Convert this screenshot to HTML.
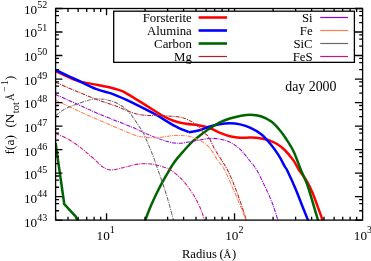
<!DOCTYPE html>
<html><head><meta charset="utf-8"><title>f(a) day 2000</title>
<style>html,body{margin:0;padding:0;background:#fff;}body{width:371px;height:261px;overflow:hidden;font-family:"Liberation Serif",serif;}svg{display:block;will-change:transform;}text{font-family:"Liberation Serif",serif;fill:#000;}</style>
</head><body>
<svg width="371" height="261" viewBox="0 0 371 261">
<rect x="0" y="0" width="371" height="261" fill="#fff"/>
<defs><clipPath id="pc"><rect x="55.6" y="8.5" width="307.0" height="212.0"/></clipPath></defs>
<g clip-path="url(#pc)" fill="none" stroke-linejoin="round" stroke-linecap="butt">
<path d="M55.60,71.00 C58.97,72.53 70.90,78.27 75.80,80.20 C80.70,82.13 81.55,81.83 85.00,82.60 C88.45,83.37 92.17,83.95 96.50,84.80 C100.83,85.65 107.33,86.85 111.00,87.70 C114.67,88.55 116.00,89.00 118.50,89.90 C121.00,90.80 121.42,90.52 126.00,93.10 C130.58,95.68 139.82,101.58 146.00,105.40 C152.18,109.22 158.52,113.45 163.10,116.00 C167.68,118.55 169.68,119.40 173.50,120.70 C177.32,122.00 181.85,123.05 186.00,123.80 C190.15,124.55 194.57,124.53 198.40,125.20 C202.23,125.87 205.15,126.43 209.00,127.80 C212.85,129.17 218.03,132.00 221.50,133.40 C224.97,134.80 226.70,135.47 229.80,136.20 C232.90,136.93 236.65,137.57 240.10,137.80 C243.55,138.03 247.03,137.50 250.50,137.60 C253.97,137.70 257.78,137.93 260.90,138.40 C264.02,138.87 266.43,139.42 269.20,140.40 C271.97,141.38 274.83,142.62 277.50,144.30 C280.17,145.98 282.52,147.78 285.20,150.50 C287.88,153.22 291.30,157.35 293.60,160.60 C295.90,163.85 296.88,166.70 299.00,170.00 C301.12,173.30 304.05,176.60 306.30,180.40 C308.55,184.20 310.43,187.97 312.50,192.80 C314.57,197.63 317.02,204.85 318.70,209.40 C320.38,213.95 321.72,217.67 322.60,220.10 C323.48,222.53 323.77,223.35 324.00,224.00" stroke="#ff0000" stroke-width="2.5"/>
<path d="M55.60,70.00 C58.97,71.58 68.98,76.30 75.80,79.50 C82.62,82.70 90.63,86.88 96.50,89.20 C102.37,91.52 106.08,91.65 111.00,93.40 C115.92,95.15 120.17,97.00 126.00,99.70 C131.83,102.40 140.63,106.88 146.00,109.60 C151.37,112.32 153.62,113.38 158.20,116.00 C162.78,118.62 168.40,122.60 173.50,125.30 C178.60,128.00 186.25,131.05 188.80,132.20" stroke="#0000ff" stroke-width="2.5"/>
<path d="M188.80,132.20 C190.40,131.92 195.03,131.40 198.40,130.50 C201.77,129.60 205.50,127.83 209.00,126.80 C212.50,125.77 215.93,124.88 219.40,124.30 C222.87,123.72 226.35,123.28 229.80,123.30 C233.25,123.32 236.65,123.65 240.10,124.40 C243.55,125.15 247.03,126.20 250.50,127.80 C253.97,129.40 257.57,131.30 260.90,134.00 C264.23,136.70 267.53,140.43 270.50,144.00 C273.47,147.57 276.28,151.58 278.70,155.40 C281.12,159.22 283.62,164.47 285.00,166.90 C286.38,169.33 285.25,166.37 287.00,170.00 C288.75,173.63 293.00,182.82 295.50,188.70 C298.00,194.58 299.92,200.07 302.00,205.30 C304.08,210.53 306.77,216.98 308.00,220.10 C309.23,223.22 309.17,223.35 309.40,224.00" stroke="#0000ff" stroke-width="2.5"/>
<path d="M144.00,224.00 C144.22,223.35 144.18,223.05 145.30,220.10 C146.42,217.15 148.77,210.85 150.70,206.30 C152.63,201.75 154.83,197.05 156.90,192.80 C158.97,188.55 161.02,184.60 163.10,180.80 C165.18,177.00 167.98,172.43 169.40,170.00 C170.82,167.57 170.33,168.10 171.60,166.20 C172.87,164.30 174.85,161.30 177.00,158.60 C179.15,155.90 182.07,152.72 184.50,150.00 C186.93,147.28 189.52,144.33 191.60,142.30 C193.68,140.27 195.22,139.23 197.00,137.80 C198.78,136.37 200.13,135.28 202.30,133.70 C204.47,132.12 207.15,130.15 210.00,128.30 C212.85,126.45 216.10,124.23 219.40,122.60 C222.70,120.97 226.35,119.60 229.80,118.50 C233.25,117.40 236.65,116.63 240.10,116.00 C243.55,115.37 247.03,114.67 250.50,114.70 C253.97,114.73 257.43,115.05 260.90,116.20 C264.37,117.35 268.25,119.38 271.30,121.60 C274.35,123.82 276.85,126.80 279.20,129.50 C281.55,132.20 283.02,134.17 285.40,137.80 C287.78,141.43 290.92,145.93 293.50,151.30 C296.08,156.67 298.62,164.47 300.90,170.00 C303.18,175.53 305.08,178.62 307.20,184.50 C309.32,190.38 311.80,199.37 313.60,205.30 C315.40,211.23 317.07,216.98 318.00,220.10 C318.93,223.22 319.00,223.35 319.20,224.00" stroke="#006400" stroke-width="2.5"/>
<path d="M55.60,143.00 L59.40,170.00 L64.30,204.20 L75.80,216.70 L77.20,220.10 L78.00,222.00" stroke="#006400" stroke-width="2.5"/>
<path d="M55.60,82.30 C58.97,83.75 68.98,88.15 75.80,91.00 C82.62,93.85 89.58,96.80 96.50,99.40 C103.42,102.00 111.38,104.40 117.30,106.60 C123.22,108.80 127.47,111.15 132.00,112.60 C136.53,114.05 139.83,114.80 144.50,115.30 C149.17,115.80 154.47,115.35 160.00,115.60 C165.53,115.85 173.03,116.12 177.70,116.80 C182.37,117.48 184.70,118.17 188.00,119.70 C191.30,121.23 195.00,123.95 197.50,126.00 C200.00,128.05 201.17,130.20 203.00,132.00 C204.83,133.80 206.55,133.93 208.50,136.80 C210.45,139.67 212.58,145.40 214.70,149.20 C216.82,153.00 219.07,156.13 221.20,159.60 C223.33,163.07 225.38,165.85 227.50,170.00 C229.62,174.15 231.80,179.32 233.90,184.50 C236.00,189.68 238.02,195.17 240.10,201.10 C242.18,207.03 245.13,216.28 246.40,220.10 C247.67,223.92 247.48,223.35 247.70,224.00" stroke="#b22222" stroke-width="1.05" stroke-dasharray="4 1 1 1"/>
<path d="M55.60,94.60 C58.97,96.08 68.98,100.45 75.80,103.50 C82.62,106.55 91.67,110.77 96.50,112.90 C101.33,115.03 98.88,113.92 104.80,116.30 C110.72,118.68 125.38,124.43 132.00,127.20 C138.62,129.97 140.35,131.10 144.50,132.90 C148.65,134.70 152.75,136.47 156.90,138.00 C161.05,139.53 165.60,141.23 169.40,142.10 C173.20,142.97 175.90,143.33 179.70,143.20 C183.50,143.07 187.32,142.08 192.20,141.30 C197.08,140.52 204.82,138.92 209.00,138.50 C213.18,138.08 214.53,138.47 217.30,138.80 C220.07,139.13 222.83,139.57 225.60,140.50 C228.37,141.43 231.13,142.57 233.90,144.40 C236.67,146.23 239.43,148.62 242.20,151.50 C244.97,154.38 248.08,158.62 250.50,161.70 C252.92,164.78 254.28,165.85 256.70,170.00 C259.12,174.15 262.40,181.07 265.00,186.60 C267.60,192.13 270.15,197.62 272.30,203.20 C274.45,208.78 276.75,216.63 277.90,220.10 C279.05,223.57 278.98,223.35 279.20,224.00" stroke="#9400d3" stroke-width="1.05" stroke-dasharray="4 1 1 1"/>
<path d="M55.60,100.20 C58.97,101.78 70.15,107.07 75.80,109.70 C81.45,112.33 80.13,111.93 89.50,116.00 C98.87,120.07 122.83,130.57 132.00,134.10 C141.17,137.63 140.35,136.60 144.50,137.20 C148.65,137.80 152.75,137.92 156.90,137.70 C161.05,137.48 165.60,136.28 169.40,135.90 C173.20,135.52 176.25,135.28 179.70,135.40 C183.15,135.52 186.63,135.68 190.10,136.60 C193.57,137.52 197.35,139.15 200.50,140.90 C203.65,142.65 206.20,143.98 209.00,147.10 C211.80,150.22 214.70,155.78 217.30,159.60 C219.90,163.42 221.83,164.80 224.60,170.00 C227.37,175.20 231.32,184.92 233.90,190.80 C236.48,196.68 238.10,200.42 240.10,205.30 C242.10,210.18 244.68,216.98 245.90,220.10 C247.12,223.22 247.15,223.35 247.40,224.00" stroke="#ff7f50" stroke-width="1.05" stroke-dasharray="4 1 1 1"/>
<path d="M55.60,115.80 C57.00,114.75 60.63,111.40 64.00,109.50 C67.37,107.60 71.42,106.02 75.80,104.40 C80.18,102.78 86.27,100.72 90.30,99.80 C94.33,98.88 96.82,98.80 100.00,98.90 C103.18,99.00 106.22,99.48 109.40,100.40 C112.58,101.32 116.13,102.77 119.10,104.40 C122.07,106.03 124.77,107.88 127.20,110.20 C129.63,112.52 131.82,115.73 133.70,118.30 C135.58,120.87 136.85,123.07 138.50,125.60 C140.15,128.13 141.22,128.53 143.60,133.50 C145.98,138.47 150.40,149.32 152.80,155.40 C155.20,161.48 156.28,165.15 158.00,170.00 C159.72,174.85 161.38,179.32 163.10,184.50 C164.82,189.68 166.57,195.17 168.30,201.10 C170.03,207.03 172.45,216.28 173.50,220.10 C174.55,223.92 174.42,223.35 174.60,224.00" stroke="#696969" stroke-width="1.05" stroke-dasharray="4 1 1 1"/>
<path d="M55.60,133.60 C57.58,134.47 63.45,136.55 67.50,138.80 C71.55,141.05 75.75,143.98 79.90,147.10 C84.05,150.22 88.60,154.20 92.40,157.50 C96.20,160.80 99.60,164.83 102.70,166.90 C105.80,168.97 107.88,169.70 111.00,169.90 C114.12,170.10 117.90,168.87 121.40,168.10 C124.90,167.33 128.50,166.03 132.00,165.30 C135.50,164.57 138.93,163.88 142.40,163.70 C145.87,163.52 149.35,163.67 152.80,164.20 C156.25,164.73 160.17,165.93 163.10,166.90 C166.03,167.87 167.28,167.93 170.40,170.00 C173.52,172.07 178.17,175.50 181.80,179.30 C185.43,183.10 189.25,188.30 192.20,192.80 C195.15,197.30 197.43,201.75 199.50,206.30 C201.57,210.85 203.53,217.15 204.60,220.10 C205.67,223.05 205.68,223.35 205.90,224.00" stroke="#c71585" stroke-width="1.05" stroke-dasharray="4 1 1 1"/>
</g>
<path d="M55.6,220.10h6.8M362.6,220.10h-7.7M55.6,210.74h3.4M362.6,210.74h-3.4M55.6,203.67h3.4M362.6,203.67h-3.4M55.6,199.53h3.4M362.6,199.53h-3.4M55.6,196.59h6.8M362.6,196.59h-7.7M55.6,187.23h3.4M362.6,187.23h-3.4M55.6,180.16h3.4M362.6,180.16h-3.4M55.6,176.02h3.4M362.6,176.02h-3.4M55.6,173.08h6.8M362.6,173.08h-7.7M55.6,163.72h3.4M362.6,163.72h-3.4M55.6,156.64h3.4M362.6,156.64h-3.4M55.6,152.50h3.4M362.6,152.50h-3.4M55.6,149.57h6.8M362.6,149.57h-7.7M55.6,140.21h3.4M362.6,140.21h-3.4M55.6,133.13h3.4M362.6,133.13h-3.4M55.6,128.99h3.4M362.6,128.99h-3.4M55.6,126.06h6.8M362.6,126.06h-7.7M55.6,116.70h3.4M362.6,116.70h-3.4M55.6,109.62h3.4M362.6,109.62h-3.4M55.6,105.48h3.4M362.6,105.48h-3.4M55.6,102.54h6.8M362.6,102.54h-7.7M55.6,93.19h3.4M362.6,93.19h-3.4M55.6,86.11h3.4M362.6,86.11h-3.4M55.6,81.97h3.4M362.6,81.97h-3.4M55.6,79.03h6.8M362.6,79.03h-7.7M55.6,69.68h3.4M362.6,69.68h-3.4M55.6,62.60h3.4M362.6,62.60h-3.4M55.6,58.46h3.4M362.6,58.46h-3.4M55.6,55.52h6.8M362.6,55.52h-7.7M55.6,46.17h3.4M362.6,46.17h-3.4M55.6,39.09h3.4M362.6,39.09h-3.4M55.6,34.95h3.4M362.6,34.95h-3.4M55.6,32.01h6.8M362.6,32.01h-7.7M55.6,22.66h3.4M362.6,22.66h-3.4M55.6,15.58h3.4M362.6,15.58h-3.4M55.6,11.44h3.4M362.6,11.44h-3.4M55.6,8.50h6.8M362.6,8.50h-7.7M55.60,220.1v-3.4M55.60,8.5v3.4M68.00,220.1v-3.4M68.00,8.5v3.4M78.14,220.1v-3.4M78.14,8.5v3.4M86.71,220.1v-3.4M86.71,8.5v3.4M94.13,220.1v-3.4M94.13,8.5v3.4M100.68,220.1v-3.4M100.68,8.5v3.4M106.54,220.1v-6.8M106.54,8.5v6.8M145.07,220.1v-3.4M145.07,8.5v3.4M167.61,220.1v-3.4M167.61,8.5v3.4M183.60,220.1v-3.4M183.60,8.5v3.4M196.00,220.1v-3.4M196.00,8.5v3.4M206.14,220.1v-3.4M206.14,8.5v3.4M214.71,220.1v-3.4M214.71,8.5v3.4M222.13,220.1v-3.4M222.13,8.5v3.4M228.68,220.1v-3.4M228.68,8.5v3.4M234.54,220.1v-6.8M234.54,8.5v6.8M273.07,220.1v-3.4M273.07,8.5v3.4M295.61,220.1v-3.4M295.61,8.5v3.4M311.60,220.1v-3.4M311.60,8.5v3.4M324.00,220.1v-3.4M324.00,8.5v3.4M334.14,220.1v-3.4M334.14,8.5v3.4M342.71,220.1v-3.4M342.71,8.5v3.4M350.13,220.1v-3.4M350.13,8.5v3.4M356.68,220.1v-3.4M356.68,8.5v3.4" stroke="#000" stroke-width="1.3" fill="none"/>
<rect x="55.6" y="8.5" width="307.0" height="211.6" fill="none" stroke="#000" stroke-width="1.3"/>
<rect x="113.7" y="11.2" width="240.7" height="51.150000000000006" fill="#fff" stroke="#000" stroke-width="1.3"/>
<text x="191.8" y="21.70" font-size="12.8" text-anchor="end">Forsterite</text>
<path d="M198.6,17.5H227" stroke="#ff0000" stroke-width="2.6"/>
<text x="191.8" y="34.70" font-size="12.8" text-anchor="end">Alumina</text>
<path d="M198.6,30.5H227" stroke="#0000ff" stroke-width="2.6"/>
<text x="191.8" y="47.70" font-size="12.8" text-anchor="end">Carbon</text>
<path d="M198.6,43.5H227" stroke="#006400" stroke-width="2.6"/>
<text x="191.8" y="60.70" font-size="12.8" text-anchor="end">Mg</text>
<path d="M198.6,56.5H227" stroke="#b22222" stroke-width="1.2"/>
<text x="312.6" y="21.70" font-size="12.8" text-anchor="end">Si</text>
<path d="M320.2,17.5H348" stroke="#9400d3" stroke-width="1.2"/>
<text x="312.6" y="34.70" font-size="12.8" text-anchor="end">Fe</text>
<path d="M320.2,30.5H348" stroke="#ff7f50" stroke-width="1.2"/>
<text x="312.6" y="47.70" font-size="12.8" text-anchor="end">SiC</text>
<path d="M320.2,43.5H348" stroke="#696969" stroke-width="1.2"/>
<text x="312.6" y="60.70" font-size="12.8" text-anchor="end">FeS</text>
<path d="M320.2,56.5H348" stroke="#c71585" stroke-width="1.2"/>
<text x="285.2" y="90.6" font-size="13.9">day 2000</text>
<text x="47.2" y="226.73" font-size="13.2" text-anchor="end">10<tspan font-size="10" dy="-6.2">43</tspan></text>
<text x="47.2" y="203.06" font-size="13.2" text-anchor="end">10<tspan font-size="10" dy="-6.2">44</tspan></text>
<text x="47.2" y="179.39" font-size="13.2" text-anchor="end">10<tspan font-size="10" dy="-6.2">45</tspan></text>
<text x="47.2" y="155.72" font-size="13.2" text-anchor="end">10<tspan font-size="10" dy="-6.2">46</tspan></text>
<text x="47.2" y="132.05" font-size="13.2" text-anchor="end">10<tspan font-size="10" dy="-6.2">47</tspan></text>
<text x="47.2" y="108.38" font-size="13.2" text-anchor="end">10<tspan font-size="10" dy="-6.2">48</tspan></text>
<text x="47.2" y="84.71" font-size="13.2" text-anchor="end">10<tspan font-size="10" dy="-6.2">49</tspan></text>
<text x="47.2" y="61.04" font-size="13.2" text-anchor="end">10<tspan font-size="10" dy="-6.2">50</tspan></text>
<text x="47.2" y="37.37" font-size="13.2" text-anchor="end">10<tspan font-size="10" dy="-6.2">51</tspan></text>
<text x="47.2" y="13.70" font-size="13.2" text-anchor="end">10<tspan font-size="10" dy="-6.2">52</tspan></text>
<text x="96.60" y="239.6" font-size="13.2">10<tspan font-size="10" dy="-6.6">1</tspan></text>
<text x="225.20" y="239.6" font-size="13.2">10<tspan font-size="10" dy="-6.6">2</tspan></text>
<text x="353.80" y="239.6" font-size="13.2">10<tspan font-size="10" dy="-6.6">3</tspan></text>
<text x="181.9" y="257.7" font-size="12.6">Radius</text>
<text x="219.5" y="257.7" font-size="12.6">(</text>
<text x="223.5" y="257.7" font-size="10.8">Å</text>
<text x="231.9" y="257.7" font-size="12.6">)</text>
<g transform="translate(14.1,154.4) rotate(-90)">
<text x="0" y="0" font-size="13.5">f(a)</text>
<text x="26.8" y="0" font-size="13.3">(N</text>
<text x="41.2" y="4.8" font-size="10.5">tot</text>
<text x="53.6" y="-0.2" font-size="10.3">Å</text>
<text x="62.4" y="-6.5" font-size="10">−</text>
<text x="69.2" y="-6.5" font-size="10">1</text>
<text x="74.5" y="0" font-size="12.8">)</text>
</g>
</svg></body></html>
